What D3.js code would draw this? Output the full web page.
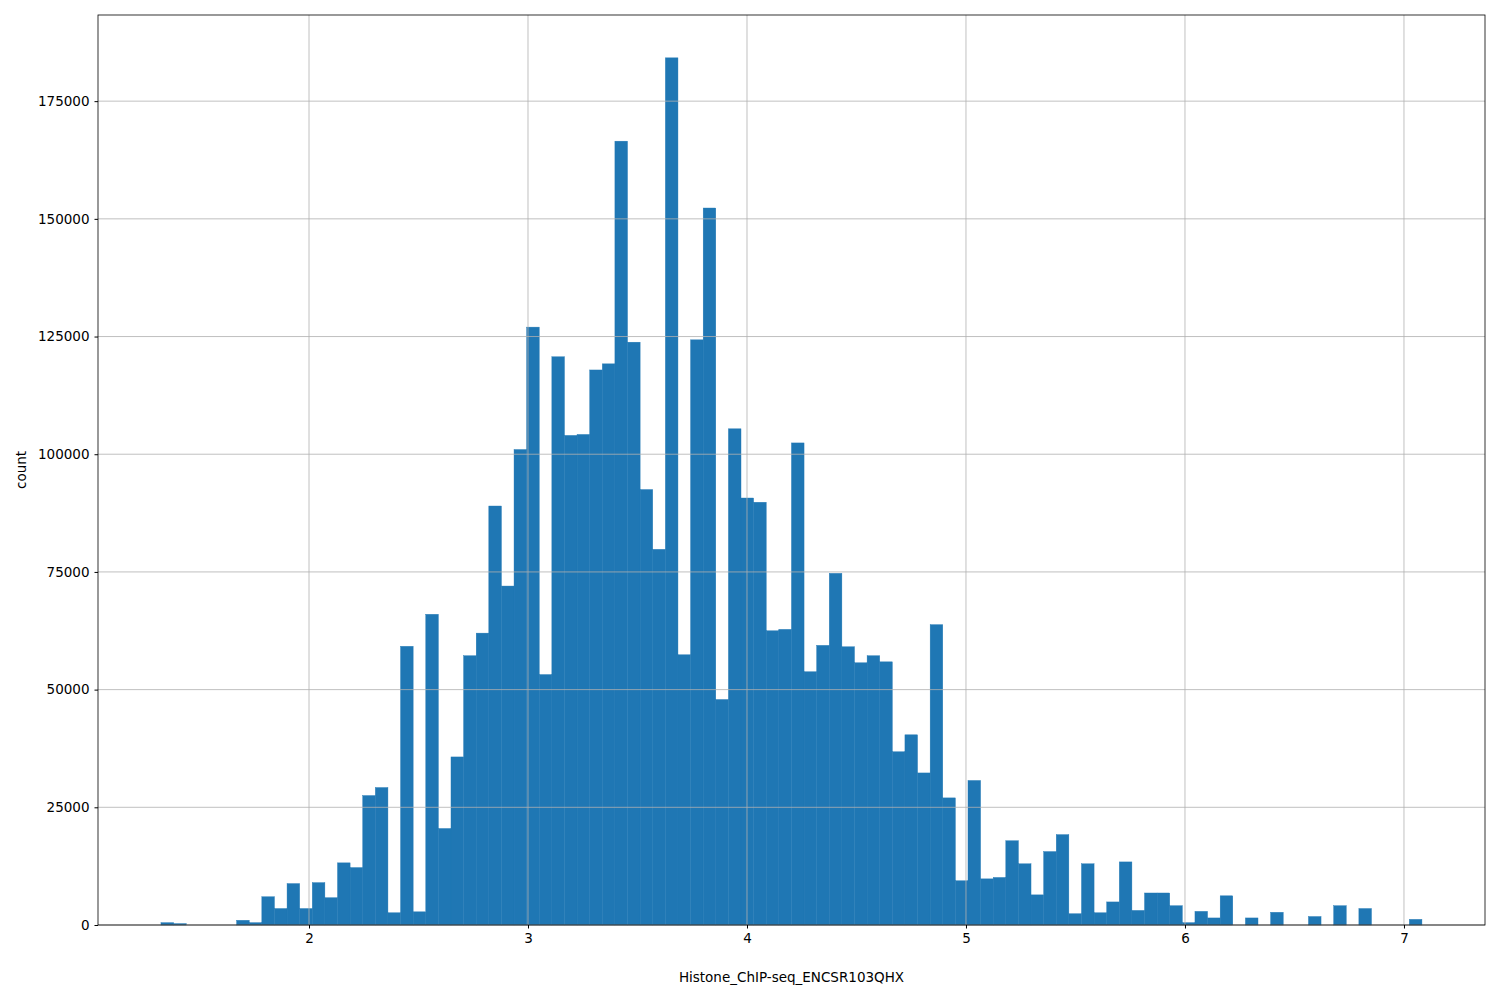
<!DOCTYPE html>
<html><head><meta charset="utf-8">
<script src="https://cdn.jsdelivr.net/npm/d3@7"></script>
<style>body{margin:0;background:#fff}text{font-family:"DejaVu Sans",sans-serif}</style>
</head><body>
<script>
let binStart = 1.324, binWidth = 0.05758;
let counts = [500,300,0,0,0,0,1000,500,6000,3500,
8800,3500,9000,5800,13200,12200,27500,29200,2600,59200,
2800,66000,20500,35700,57200,62000,89000,72000,101000,127000,
53200,120700,104000,104200,117900,119200,166500,123800,92500,79800,
184200,57400,124300,152300,47900,105400,90700,89800,62500,62800,
102400,53800,59400,74700,59100,55700,57200,55900,36800,40400,
32300,63800,27000,9400,30700,9800,10100,17900,13000,6400,
15600,19200,2400,13000,2600,4900,13400,3100,6800,6800,
4100,500,2900,1500,6200,0,1500,0,2700,0,
0,1800,0,4100,0,3500,0,0,0,1200];
let xTicks = [2,3,4,5,6,7];
let yTicks = [0,25000,50000,75000,100000,125000,150000,175000];

let L=98, R=1485, T=15, B=925;
let svg = d3.select("body").append("svg").attr("width",1500).attr("height",1000);
let x = d3.scaleLinear().domain([1.0365,7.370]).range([L,R]);
let y = d3.scaleLinear().domain([0,193300]).range([B,T]);

svg.selectAll("rect.bar").data(counts.map((c,i)=>[i,c]).filter(d=>d[1]>0)).enter().append("rect")
	.attr("x",d=>x(binStart+d[0]*binWidth))
	.attr("width",d=>x(binStart+(d[0]+1)*binWidth)-x(binStart+d[0]*binWidth))
	.attr("y",d=>y(d[1]))
	.attr("height",d=>B-y(d[1]))
	.attr("fill","#1f77b4")
	.attr("stroke","#1f77b4").attr("stroke-width",0.4);

// grid on top
xTicks.forEach(t=>svg.append("line").attr("x1",x(t)).attr("x2",x(t)).attr("y1",T).attr("y2",B).attr("stroke","#b0b0b0").attr("stroke-width",0.8));
yTicks.forEach(t=>svg.append("line").attr("x1",L).attr("x2",R).attr("y1",y(t)).attr("y2",y(t)).attr("stroke","#b0b0b0").attr("stroke-width",0.8));

svg.append("g").attr("transform",`translate(0,${B})`)
	.call(d3.axisBottom(x).tickValues(xTicks).tickSize(3.5).tickPadding(5).tickFormat(d3.format("d")))
	.call(g=>g.select(".domain").remove())
	.selectAll("text").attr("font-size",13.5).attr("fill","#000");
svg.append("g").attr("transform",`translate(${L},0)`)
	.call(d3.axisLeft(y).tickValues(yTicks).tickSize(3.5).tickPadding(5).tickFormat(d3.format("d")))
	.call(g=>g.select(".domain").remove())
	.selectAll("text").attr("font-size",13.5).attr("fill","#000");

svg.append("rect").attr("x",L).attr("y",T).attr("width",R-L).attr("height",B-T).attr("fill","none").attr("stroke","#000").attr("stroke-width",0.8);

svg.append("text").attr("x",(L+R)/2).attr("y",982).attr("text-anchor","middle").attr("font-size",13.5).text("Histone_ChIP-seq_ENCSR103QHX");
svg.append("text").attr("transform",`translate(26,${(T+B)/2}) rotate(-90)`).attr("text-anchor","middle").attr("font-size",13.5).text("count");
</script>
</body></html>
